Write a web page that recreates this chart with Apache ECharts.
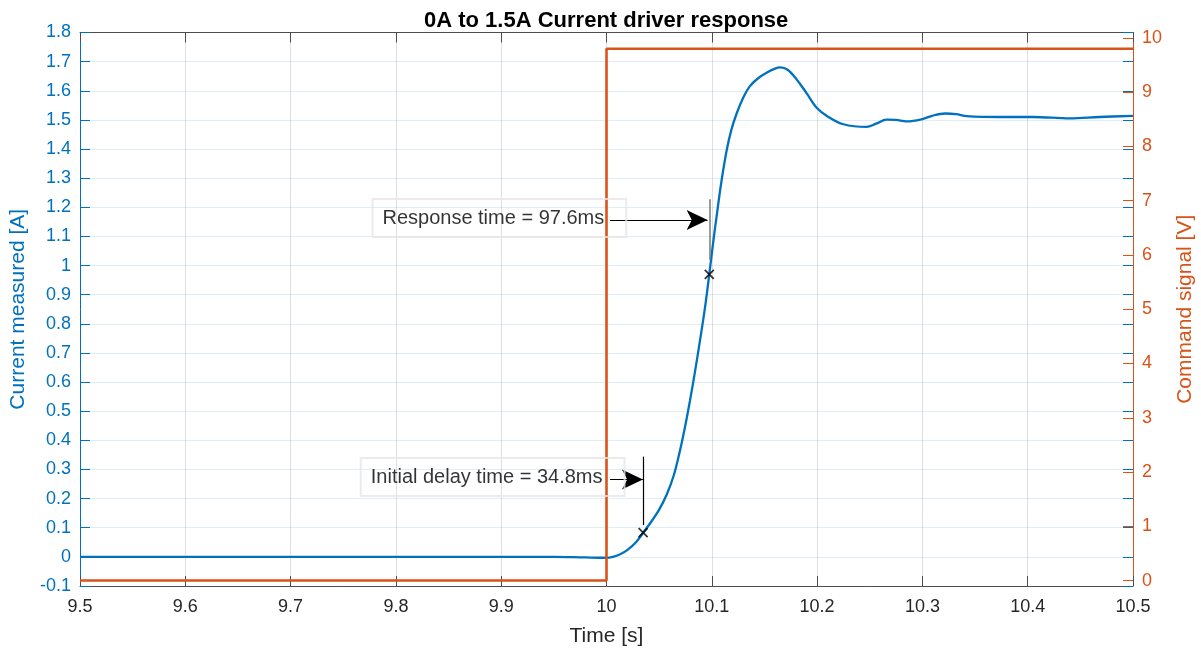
<!DOCTYPE html>
<html>
<head>
<meta charset="utf-8">
<title>0A to 1.5A Current driver response</title>
<script src="https://cdn.jsdelivr.net/npm/echarts@6/dist/echarts.min.js"></script>
<style>
  html, body { margin: 0; padding: 0; background: #ffffff; }
  #chart { width: 1201px; height: 651px; }
</style>
</head>
<body>
<div id="chart"></div>
<script>
// Measured current of the driver (time in s, current in A)
const timeS = [
  9.50, 9.60, 9.70, 9.80, 9.90, 9.95, 9.98, 10.000, 10.006, 10.013,
  10.020, 10.028, 10.0348, 10.042, 10.050, 10.0572, 10.064, 10.0698, 10.0745, 10.0793,
  10.084, 10.0888, 10.0935, 10.0976, 10.1015, 10.1046, 10.109, 10.114, 10.1185, 10.1236,
  10.130, 10.136, 10.144, 10.152, 10.160, 10.165, 10.172, 10.1806, 10.190, 10.1996,
  10.210, 10.225, 10.247, 10.256, 10.266, 10.275, 10.285, 10.299, 10.310, 10.3215,
  10.332, 10.342, 10.374, 10.405, 10.440, 10.468, 10.500
];
const currentA = [
  0.000, 0.000, 0.000, 0.000, 0.000, 0.000, -0.002, -0.003, 0.000, 0.009,
  0.024, 0.050, 0.083, 0.118, 0.162, 0.214, 0.281, 0.365, 0.445, 0.537,
  0.635, 0.743, 0.855, 0.970, 1.085, 1.170, 1.285, 1.393, 1.465, 1.522,
  1.578, 1.615, 1.643, 1.662, 1.676, 1.680, 1.672, 1.639, 1.592, 1.542,
  1.512, 1.485, 1.476, 1.487, 1.501, 1.500, 1.495, 1.502, 1.515, 1.522,
  1.520, 1.513, 1.510, 1.510, 1.505, 1.510, 1.514
];

// Command step signal (time in s, voltage in V)
const cmdTime = [9.5, 10.0, 10.0, 10.5];
const cmdVolt = [0, 0, 9.8, 9.8];

// Points marking the end of the initial delay and the response time
const markerTime = [10.0348, 10.0976];
const markerCurrent = [0.083, 0.970];

// Tick values of the command axis
const voltTicks = [0, 1, 2, 3, 4, 5, 6, 7, 8, 9, 10];

// Annotation texts
const noteTexts = ['Response time = 97.6ms', 'Initial delay time = 34.8ms'];

const BLUE = '#0072BD';
const ORANGE = '#D95319';
const DARK = '#262626';
const FONT = 'Liberation Sans, Arial, Helvetica, sans-serif';

const currentSeries = timeS.map((t, i) => [t, currentA[i]]);
const cmdSeries = cmdTime.map((t, i) => [t, cmdVolt[i]]);
const markerSeries = markerTime.map((t, i) => [t, markerCurrent[i]]);

// Annotation geometry in data units (time, current)
const respArrowY = 1.156, respArrowFrom = 10.0033;
const delayArrowY = 0.266, delayArrowFrom = 10.0033;
const respBar = [1.228, 1.019];
const delayBar = [0.344, 0.109];
const noteAnchors = [[10.0192, 1.163], [10.0176, 0.274]];

const chart = echarts.init(document.getElementById('chart'), null, { renderer: 'canvas' });

const tickFmt = v => String(Math.round(v * 10) / 10);

const arrowLine = { color: '#000000', width: 1.2, type: 'solid' };
const arrowItem = (x0, x1, y) => [
  { coord: [x0, y], symbol: 'none', lineStyle: arrowLine },
  { coord: [x1, y], symbol: 'arrow', symbolSize: [15, 21] }
];
const barItem = (x, y0, y1, color, width) => [
  { coord: [x, y0], symbol: 'none', lineStyle: { color: color, width: width, type: 'solid' } },
  { coord: [x, y1], symbol: 'none' }
];

chart.setOption({
  animation: false,
  backgroundColor: '#ffffff',
  textStyle: { fontFamily: FONT },
  title: {
    text: '0A to 1.5A Current driver response',
    left: 419,
    top: 5,
    textStyle: { fontFamily: FONT, fontSize: 22, fontWeight: 'bold', color: '#000000' }
  },
  grid: { left: 80, right: 68, top: 32.5, bottom: 65, containLabel: false, outerBoundsMode: 'none' },
  xAxis: [
    {
      type: 'value', min: 9.5, max: 10.5, interval: 0.1,
      name: 'Time [s]', nameLocation: 'middle', nameGap: 40,
      nameTextStyle: { fontFamily: FONT, fontSize: 21, color: DARK },
      axisLine: { show: true, onZero: false, lineStyle: { color: '#4d4d4d', width: 1 } },
      axisTick: { show: true, inside: true, length: 10, lineStyle: { color: '#4d4d4d' } },
      axisLabel: { fontFamily: FONT, fontSize: 18, color: DARK, margin: 12, formatter: tickFmt },
      splitLine: { show: true, lineStyle: { color: 'rgba(38,38,38,0.14)', width: 1 } }
    },
    {
      type: 'value', position: 'top', min: 9.5, max: 10.5, interval: 0.1,
      axisLine: { show: true, onZero: false, lineStyle: { color: '#4d4d4d', width: 1 } },
      axisTick: { show: true, inside: true, length: 10, lineStyle: { color: '#4d4d4d' } },
      axisLabel: { show: false },
      splitLine: { show: false }
    }
  ],
  yAxis: [
    {
      type: 'value', position: 'left', min: -0.1, max: 1.8, interval: 0.1,
      name: 'Current measured [A]', nameLocation: 'middle', nameGap: 41,
      nameTextStyle: { fontFamily: FONT, fontSize: 21, color: BLUE },
      axisLine: { show: true, onZero: false, lineStyle: { color: BLUE, width: 1 } },
      axisTick: { show: true, inside: true, length: 10, lineStyle: { color: BLUE } },
      axisLabel: { fontFamily: FONT, fontSize: 18, color: BLUE, margin: 9, formatter: tickFmt },
      splitLine: { show: true, lineStyle: { color: 'rgba(0,114,189,0.13)', width: 1 } }
    },
    {
      type: 'value', position: 'right', min: -0.1, max: 10.1,
      name: 'Command signal [V]', nameLocation: 'middle', nameGap: 42,
      nameTextStyle: { fontFamily: FONT, fontSize: 21, color: ORANGE },
      axisLine: { show: true, onZero: false, lineStyle: { color: ORANGE, width: 1 } },
      axisTick: { show: true, inside: true, length: 10, customValues: voltTicks, lineStyle: { color: ORANGE } },
      axisLabel: { fontFamily: FONT, fontSize: 18, color: ORANGE, margin: 9, customValues: voltTicks },
      splitLine: { show: false }
    },
    {
      // current-axis ticks repeated on the right edge
      type: 'value', position: 'right', min: -0.1, max: 1.8, interval: 0.1,
      axisLine: { show: false },
      axisTick: { show: true, inside: true, length: 10, lineStyle: { color: BLUE } },
      axisLabel: { show: false },
      splitLine: { show: false }
    }
  ],
  series: [
    {
      name: 'Current', type: 'line', xAxisIndex: 0, yAxisIndex: 0,
      data: currentSeries, showSymbol: false, symbol: 'none',
      smooth: 0.35,
      lineStyle: { color: BLUE, width: 2.3 }, z: 3
    },
    {
      name: 'Command', type: 'line', xAxisIndex: 0, yAxisIndex: 1,
      data: cmdSeries, showSymbol: false, symbol: 'none',
      lineStyle: { color: ORANGE, width: 2.6 }, z: 4
    },
    {
      name: 'Markers', type: 'scatter', xAxisIndex: 0, yAxisIndex: 0,
      data: markerSeries,
      symbol: 'path://M0,0L10,10M10,0L0,10', symbolSize: 9,
      itemStyle: { color: 'none', borderColor: '#000000', borderWidth: 1.8 },
      z: 6,
      markLine: {
        silent: true, animation: false,
        label: { show: false },
        emphasis: { disabled: true },
        data: [
          arrowItem(respArrowFrom, markerTime[1] - 0.0016, respArrowY),
          arrowItem(delayArrowFrom, markerTime[0] - 0.0002, delayArrowY),
          barItem(markerTime[1], respBar[0], respBar[1], '#7a7a7a', 1.5),
          barItem(markerTime[0], delayBar[0], delayBar[1], '#000000', 1.2)
        ]
      }
    },
    {
      name: 'Notes', type: 'scatter', xAxisIndex: 0, yAxisIndex: 0,
      silent: true, symbol: 'rect', symbolSize: 1, z: 7,
      itemStyle: { color: 'rgba(0,0,0,0)' },
      data: noteAnchors.map((p, i) => ({ value: p, name: noteTexts[i] })),
      label: {
        show: true, position: 'left', distance: 0,
        formatter: p => p.name,
        fontFamily: FONT, fontSize: 20, color: '#000000',
        lineHeight: 22,
        backgroundColor: 'transparent',
        borderColor: '#e6e6e6', borderWidth: 1,
        padding: [8, 22, 8, 10]
      }
    }
  ]
});
</script>
</body>
</html>
